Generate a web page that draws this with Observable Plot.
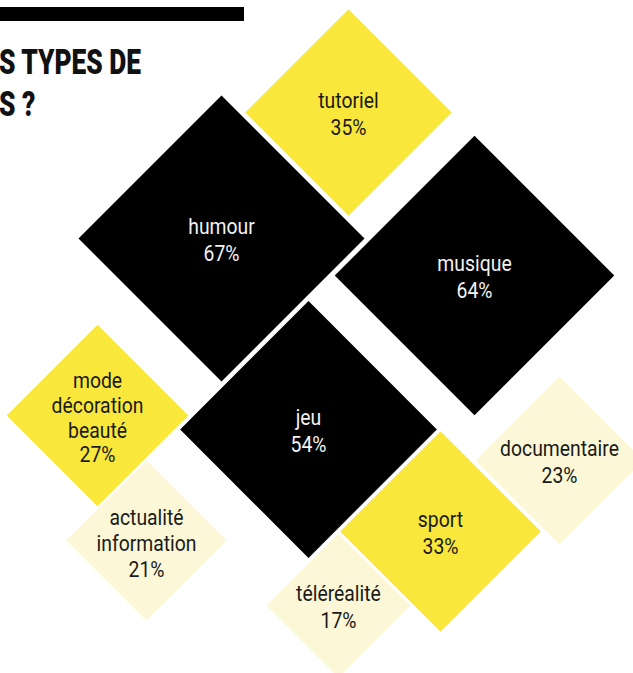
<!DOCTYPE html>
<html>
<head>
<meta charset="utf-8">
<script src="https://cdn.jsdelivr.net/npm/d3@7"></script>
<script src="https://cdn.jsdelivr.net/npm/@observablehq/plot@0.6"></script>
<style>
  html, body { margin: 0; padding: 0; background: #fff; overflow: hidden; }
  #wrap { position: relative; width: 633px; height: 673px; }
  #bar { position: absolute; left: 0; top: 7px; width: 244px; height: 14px; background: #000; }
  #title { position: absolute; left: -1px; top: 42px; font-family: Roboto, sans-serif; font-weight: 900;
           font-size: 35px; line-height: 42px; color: #111; transform-origin: 0 0; white-space: nowrap; z-index: 2; }
  #title span { display: inline-block; }
</style>
</head>
<body>
<div id="wrap">
  <div id="chart"></div>
  <div id="bar"></div>
  <div id="title"><span id="t1">S TYPES DE</span><br><span id="t2">S ?</span></div>
</div>
<script>
// Data
const labels = ["tutoriel", "humour", "musique", "jeu", "mode\ndécoration\nbeauté", "actualité\ninformation", "sport", "documentaire", "téléréalité"];
const values = [35, 67, 64, 54, 27, 21, 33, 23, 17];
// Layout (placement of each diamond's centre, in chart units)
const placeX = [348, 221, 474, 308, 97, 146, 440, 559, 338];
const placeY = [112, 238, 275, 429, 415, 540, 531, 460, 605];
// Colour classes
const colorBreaks = [25, 50];
const colorRange = ["#fcf7d6", "#f9e83b", "#000000"];

const data = labels.map((label, i) => ({
  label, value: values[i], cx: placeX[i], cy: placeY[i],
  text: `${label}\n${values[i]}%`,
  lines: label.split("\n").length + 1
}));

const diamond = {
  draw(context, size) {
    const h = Math.sqrt(size / Math.PI);
    context.moveTo(0, -h);
    context.lineTo(h, 0);
    context.lineTo(0, h);
    context.lineTo(-h, 0);
    context.closePath();
  }
};

const lineHeights = {2: 1.25, 3: 1.18, 4: 1.12};
const textMarks = [];
for (const n of [2, 3, 4]) {
  for (const dark of [true, false]) {
    const subset = data.filter(d => d.lines === n && (d.value >= colorBreaks[1]) === dark);
    if (!subset.length) continue;
    textMarks.push(Plot.text(subset, {
      x: "cx", y: "cy", text: "text",
      fill: dark ? "#f2f2f2" : "#1a1a1a",
      fontSize: 22, fontFamily: "Roboto, sans-serif",
      lineHeight: lineHeights[n], dy: n > 2 ? 2 : 0
    }));
  }
}

const chart = Plot.plot({
  width: 633, height: 673, margin: 0,
  style: {background: "transparent"},
  x: {domain: [0, 633], range: [0, 633], axis: null},
  y: {domain: [0, 673], range: [0, 673], axis: null},
  r: {type: "sqrt", domain: [0, 100], range: [0, 174.7]},
  color: {type: "threshold", domain: colorBreaks, range: colorRange},
  marks: [
    Plot.dot(data, {x: "cx", y: "cy", r: "value", fill: "value", symbol: diamond}),
    ...textMarks
  ]
});
document.getElementById("chart").appendChild(chart);

// condense label glyphs horizontally (reference uses a condensed face)
chart.querySelectorAll('g[aria-label="text"] text').forEach(t => {
  const tr = t.getAttribute("transform");
  if (tr) t.setAttribute("transform", tr + " scale(0.88,1)");
});

// fit the condensed title
const t1 = document.getElementById("t1");
const w = t1.getBoundingClientRect().width;
document.getElementById("title").style.transform = `scaleX(${142 / w})`;
</script>
</body>
</html>
